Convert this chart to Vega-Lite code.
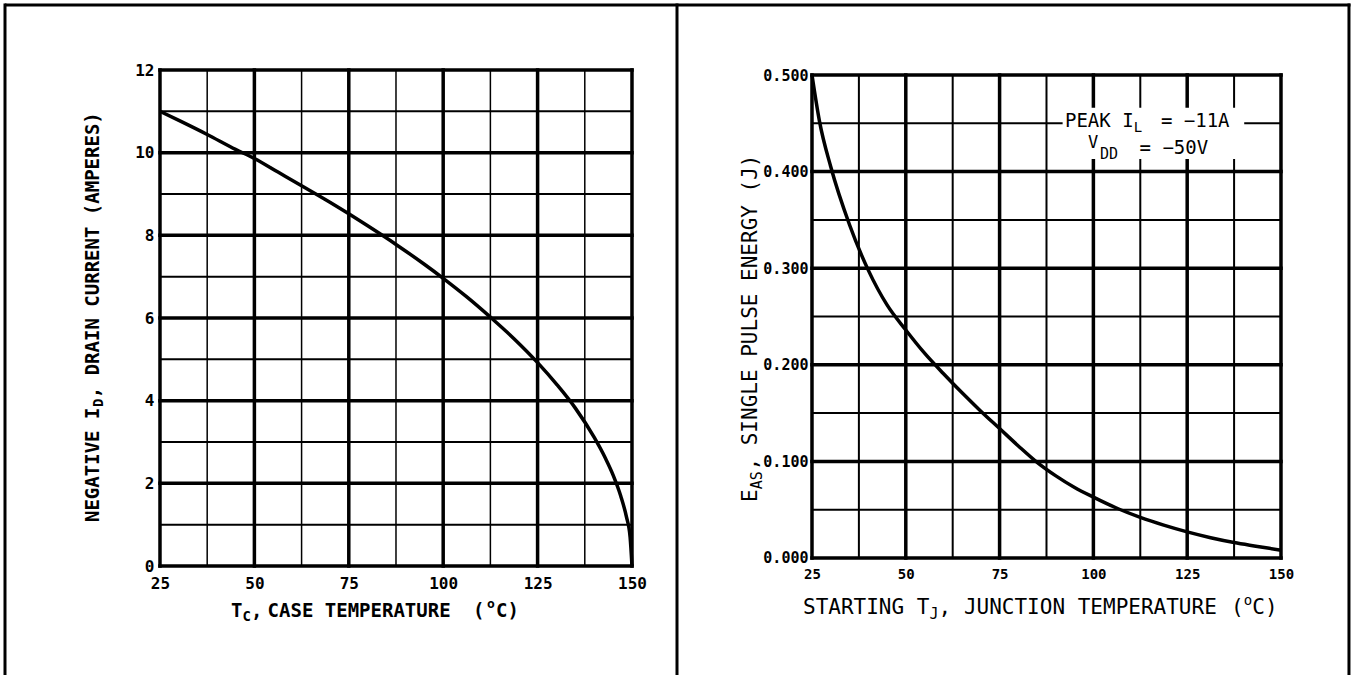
{
  "$schema": "https://vega.github.io/schema/vega-lite/v6.json",
  "background": "white",
  "padding": 0,
  "spacing": 0,
  "bounds": "flush",
  "config": {
    "view": {"stroke": null},
    "axis": {"grid": false, "domain": false, "ticks": false, "labelFlush": false, "labelOverlap": false, "labelBound": false, "labelColor": "black"}
  },
  "datasets": {
    "one": [{"k": 1}],
    "vminor": [{"v": 37.5}, {"v": 62.5}, {"v": 87.5}, {"v": 112.5}, {"v": 137.5}],
    "vmajor": [{"v": 25}, {"v": 50}, {"v": 75}, {"v": 100}, {"v": 125}, {"v": 150}],
    "hminorL": [{"h": 1}, {"h": 3}, {"h": 5}, {"h": 7}, {"h": 9}, {"h": 11}],
    "hmajorL": [{"h": 0}, {"h": 2}, {"h": 4}, {"h": 6}, {"h": 8}, {"h": 10}, {"h": 12}],
    "hminorR": [{"h": 0.05}, {"h": 0.15}, {"h": 0.25}, {"h": 0.35}, {"h": 0.45}],
    "hmajorR": [{"h": 0}, {"h": 0.1}, {"h": 0.2}, {"h": 0.3}, {"h": 0.4}, {"h": 0.5}],
    "drain": [
      {"T": 25, "I": 11.0}, {"T": 30, "I": 10.78}, {"T": 37.5, "I": 10.44}, {"T": 45, "I": 10.08},
      {"T": 50, "I": 9.86}, {"T": 56.25, "I": 9.53}, {"T": 62.5, "I": 9.2}, {"T": 70, "I": 8.8},
      {"T": 75, "I": 8.52}, {"T": 80, "I": 8.23}, {"T": 87.5, "I": 7.78}, {"T": 95, "I": 7.3},
      {"T": 100, "I": 6.96}, {"T": 106.25, "I": 6.51}, {"T": 112.5, "I": 6.02}, {"T": 118.75, "I": 5.5},
      {"T": 125, "I": 4.92}, {"T": 130, "I": 4.4}, {"T": 135, "I": 3.82}, {"T": 140, "I": 3.11},
      {"T": 143, "I": 2.6}, {"T": 145, "I": 2.2}, {"T": 147, "I": 1.7}, {"T": 148.5, "I": 1.2},
      {"T": 149.5, "I": 0.7}, {"T": 150, "I": 0.0}
    ],
    "energy": [
      {"T": 25, "E": 0.5}, {"T": 27, "E": 0.452}, {"T": 30, "E": 0.405}, {"T": 35, "E": 0.345},
      {"T": 40, "E": 0.298}, {"T": 45, "E": 0.262}, {"T": 50, "E": 0.236}, {"T": 55, "E": 0.212},
      {"T": 60, "E": 0.191}, {"T": 65, "E": 0.171}, {"T": 70, "E": 0.152}, {"T": 75, "E": 0.134},
      {"T": 80, "E": 0.116}, {"T": 85, "E": 0.099}, {"T": 90, "E": 0.085}, {"T": 95, "E": 0.073},
      {"T": 100, "E": 0.063}, {"T": 106, "E": 0.052}, {"T": 112.5, "E": 0.042}, {"T": 118.75, "E": 0.034},
      {"T": 125, "E": 0.027}, {"T": 131.25, "E": 0.021}, {"T": 137.5, "E": 0.016}, {"T": 143.75, "E": 0.012},
      {"T": 150, "E": 0.008}
    ]
  },
  "hconcat": [
    {
      "width": 677,
      "height": 675,
      "layer": [
        {
          "data": {"name": "vminor"},
          "mark": {"type": "rule", "color": "black", "strokeWidth": 1.5},
          "encoding": {
            "x": {"field": "v", "type": "quantitative",
              "scale": {"domain": [-17.37, 161.92], "nice": false, "zero": false},
              "axis": {"orient": "bottom", "offset": -109, "values": [25, 50, 75, 100, 125, 150], "labelPadding": 9,
                "labelFont": "DejaVu Sans Mono", "labelFontSize": 16, "labelFontWeight": "bold", "title": null}},
            "y": {"datum": 0, "type": "quantitative",
              "scale": {"domain": [-2.637, 13.694], "nice": false, "zero": false},
              "axis": {"orient": "left", "offset": -160, "values": [0, 2, 4, 6, 8, 10, 12], "labelPadding": 6,
                "labelFont": "DejaVu Sans Mono", "labelFontSize": 16, "labelFontWeight": "bold", "title": null}},
            "y2": {"datum": 12}
          }
        },
        {
          "data": {"name": "hminorL"},
          "mark": {"type": "rule", "color": "black", "strokeWidth": 2},
          "encoding": {"y": {"field": "h", "type": "quantitative"}, "x": {"datum": 25}, "x2": {"datum": 150}}
        },
        {
          "data": {"name": "vmajor"},
          "mark": {"type": "rule", "color": "black", "strokeWidth": 3.5, "strokeCap": "square"},
          "encoding": {"x": {"field": "v", "type": "quantitative"}, "y": {"datum": 0}, "y2": {"datum": 12}}
        },
        {
          "data": {"name": "hmajorL"},
          "mark": {"type": "rule", "color": "black", "strokeWidth": 3.5, "strokeCap": "square"},
          "encoding": {"y": {"field": "h", "type": "quantitative"}, "x": {"datum": 25}, "x2": {"datum": 150}}
        },
        {
          "data": {"name": "drain"},
          "mark": {"type": "line", "color": "black", "strokeWidth": 3.5, "interpolate": "monotone"},
          "encoding": {"x": {"field": "T", "type": "quantitative"}, "y": {"field": "I", "type": "quantitative"}}
        },
        {
          "data": {"name": "one"},
          "mark": {"type": "text", "text": "T", "font": "DejaVu Sans Mono", "fontSize": 19, "fontWeight": "bold", "align": "left", "baseline": "alphabetic"},
          "encoding": {"x": {"datum": 43.8}, "y": {"datum": -1.234}}
        },
        {
          "data": {"name": "one"},
          "mark": {"type": "text", "text": "C", "font": "DejaVu Sans Mono", "fontSize": 14, "fontWeight": "bold", "align": "left", "baseline": "alphabetic"},
          "encoding": {"x": {"datum": 46.85}, "y": {"datum": -1.331}}
        },
        {
          "data": {"name": "one"},
          "mark": {"type": "text", "text": ",", "font": "DejaVu Sans Mono", "fontSize": 19, "fontWeight": "bold", "align": "left", "baseline": "alphabetic"},
          "encoding": {"x": {"datum": 49.1}, "y": {"datum": -1.234}}
        },
        {
          "data": {"name": "one"},
          "mark": {"type": "text", "text": "CASE  TEMPERATURE", "font": "DejaVu Sans Mono", "fontSize": 19, "fontWeight": "bold", "align": "left", "baseline": "alphabetic"},
          "encoding": {"x": {"datum": 53.5}, "y": {"datum": -1.234}}
        },
        {
          "data": {"name": "one"},
          "mark": {"type": "text", "text": "(", "font": "DejaVu Sans Mono", "fontSize": 19, "fontWeight": "bold", "align": "left", "baseline": "alphabetic"},
          "encoding": {"x": {"datum": 107.9}, "y": {"datum": -1.234}}
        },
        {
          "data": {"name": "one"},
          "mark": {"type": "text", "text": "o", "font": "DejaVu Sans Mono", "fontSize": 13, "fontWeight": "bold", "align": "left", "baseline": "alphabetic"},
          "encoding": {"x": {"datum": 111.6}, "y": {"datum": -1.016}}
        },
        {
          "data": {"name": "one"},
          "mark": {"type": "text", "text": "C)", "font": "DejaVu Sans Mono", "fontSize": 19, "fontWeight": "bold", "align": "left", "baseline": "alphabetic"},
          "encoding": {"x": {"datum": 114.0}, "y": {"datum": -1.234}}
        },
        {
          "data": {"name": "one"},
          "mark": {"type": "text", "text": "NEGATIVE I", "angle": 270, "font": "DejaVu Sans Mono", "fontSize": 19, "fontWeight": "bold", "align": "left", "baseline": "alphabetic"},
          "encoding": {"x": {"datum": 8.845}, "y": {"datum": 1.0645}}
        },
        {
          "data": {"name": "one"},
          "mark": {"type": "text", "text": "D", "angle": 270, "font": "DejaVu Sans Mono", "fontSize": 14, "fontWeight": "bold", "align": "left", "baseline": "alphabetic"},
          "encoding": {"x": {"datum": 9.9}, "y": {"datum": 3.847}}
        },
        {
          "data": {"name": "one"},
          "mark": {"type": "text", "text": ", DRAIN  CURRENT  (AMPERES)", "angle": 270, "font": "DejaVu Sans Mono", "fontSize": 19, "fontWeight": "bold", "align": "left", "baseline": "alphabetic"},
          "encoding": {"x": {"datum": 8.845}, "y": {"datum": 4.06}}
        },
        {
          "data": {"name": "one"},
          "mark": {"type": "rule", "color": "black", "strokeWidth": 3},
          "encoding": {"x": {"datum": -16.046}, "y": {"datum": -2.637}, "y2": {"datum": 13.61}}
        },
        {
          "data": {"name": "one"},
          "mark": {"type": "rule", "color": "black", "strokeWidth": 3},
          "encoding": {"x": {"datum": -16.09}, "x2": {"datum": 161.92}, "y": {"datum": 13.573}}
        },
        {
          "data": {"name": "one"},
          "mark": {"type": "rule", "color": "black", "strokeWidth": 3},
          "encoding": {"x": {"datum": 161.92}, "y": {"datum": -2.637}, "y2": {"datum": 13.61}}
        }
      ]
    },
    {
      "width": 677,
      "height": 675,
      "layer": [
        {
          "data": {"name": "vminor"},
          "mark": {"type": "rule", "color": "black", "strokeWidth": 2},
          "encoding": {
            "x": {"field": "v", "type": "quantitative",
              "scale": {"domain": [-10.98, 169.46], "nice": false, "zero": false},
              "axis": {"orient": "bottom", "offset": -117, "values": [25, 50, 75, 100, 125, 150], "labelPadding": 9,
                "labelFont": "DejaVu Sans Mono", "labelFontSize": 14, "labelFontWeight": "bold", "title": null}},
            "y": {"datum": 0, "type": "quantitative",
              "scale": {"domain": [-0.12112, 0.57764], "nice": false, "zero": false},
              "axis": {"orient": "left", "offset": -135, "values": [0, 0.1, 0.2, 0.3, 0.4, 0.5], "format": ".3f", "labelPadding": 4,
                "labelFont": "DejaVu Sans Mono", "labelFontSize": 15, "labelFontWeight": "bold", "title": null}},
            "y2": {"datum": 0.5}
          }
        },
        {
          "data": {"name": "hminorR"},
          "mark": {"type": "rule", "color": "black", "strokeWidth": 2},
          "encoding": {"y": {"field": "h", "type": "quantitative"}, "x": {"datum": 25}, "x2": {"datum": 150}}
        },
        {
          "data": {"name": "vmajor"},
          "mark": {"type": "rule", "color": "black", "strokeWidth": 3.5, "strokeCap": "square"},
          "encoding": {"x": {"field": "v", "type": "quantitative"}, "y": {"datum": 0}, "y2": {"datum": 0.5}}
        },
        {
          "data": {"name": "hmajorR"},
          "mark": {"type": "rule", "color": "black", "strokeWidth": 3.5, "strokeCap": "square"},
          "encoding": {"y": {"field": "h", "type": "quantitative"}, "x": {"datum": 25}, "x2": {"datum": 150}}
        },
        {
          "data": {"name": "one"},
          "mark": {"type": "rect", "color": "white"},
          "encoding": {"x": {"datum": 91.8}, "x2": {"datum": 140.2}, "y": {"datum": 0.413}, "y2": {"datum": 0.466}}
        },
        {
          "data": {"name": "one"},
          "mark": {"type": "text", "text": "PEAK I", "font": "DejaVu Sans Mono", "fontSize": 19, "align": "left", "baseline": "alphabetic"},
          "encoding": {"x": {"datum": 92.43}, "y": {"datum": 0.4459}}
        },
        {
          "data": {"name": "one"},
          "mark": {"type": "text", "text": "L", "font": "DejaVu Sans Mono", "fontSize": 14, "align": "left", "baseline": "alphabetic"},
          "encoding": {"x": {"datum": 110.75}, "y": {"datum": 0.4407}}
        },
        {
          "data": {"name": "one"},
          "mark": {"type": "text", "text": "=  −11A", "font": "DejaVu Sans Mono", "fontSize": 19, "align": "left", "baseline": "alphabetic"},
          "encoding": {"x": {"datum": 118.0}, "y": {"datum": 0.4459}}
        },
        {
          "data": {"name": "one"},
          "mark": {"type": "text", "text": "V", "font": "DejaVu Sans Mono", "fontSize": 17, "align": "left", "baseline": "alphabetic"},
          "encoding": {"x": {"datum": 98.56}, "y": {"datum": 0.4245}}
        },
        {
          "data": {"name": "one"},
          "mark": {"type": "text", "text": "DD", "font": "DejaVu Sans Mono", "fontSize": 15, "align": "left", "baseline": "alphabetic"},
          "encoding": {"x": {"datum": 101.76}, "y": {"datum": 0.4135}}
        },
        {
          "data": {"name": "one"},
          "mark": {"type": "text", "text": "= −50V", "font": "DejaVu Sans Mono", "fontSize": 19, "align": "left", "baseline": "alphabetic"},
          "encoding": {"x": {"datum": 112.29}, "y": {"datum": 0.4183}}
        },
        {
          "data": {"name": "energy"},
          "mark": {"type": "line", "color": "black", "strokeWidth": 3.5, "interpolate": "monotone"},
          "encoding": {"x": {"field": "T", "type": "quantitative"}, "y": {"field": "E", "type": "quantitative"}}
        },
        {
          "data": {"name": "one"},
          "mark": {"type": "text", "text": "STARTING T", "font": "DejaVu Sans Mono", "fontSize": 21, "align": "left", "baseline": "alphabetic"},
          "encoding": {"x": {"datum": 22.6}, "y": {"datum": -0.05797}}
        },
        {
          "data": {"name": "one"},
          "mark": {"type": "text", "text": "J", "font": "DejaVu Sans Mono", "fontSize": 15, "align": "left", "baseline": "alphabetic"},
          "encoding": {"x": {"datum": 56.3}, "y": {"datum": -0.06315}}
        },
        {
          "data": {"name": "one"},
          "mark": {"type": "text", "text": ", JUNCTION  TEMPERATURE", "font": "DejaVu Sans Mono", "fontSize": 21, "align": "left", "baseline": "alphabetic"},
          "encoding": {"x": {"datum": 58.75}, "y": {"datum": -0.05797}}
        },
        {
          "data": {"name": "one"},
          "mark": {"type": "text", "text": "(", "font": "DejaVu Sans Mono", "fontSize": 21, "align": "left", "baseline": "alphabetic"},
          "encoding": {"x": {"datum": 136.67}, "y": {"datum": -0.05797}}
        },
        {
          "data": {"name": "one"},
          "mark": {"type": "text", "text": "o", "font": "DejaVu Sans Mono", "fontSize": 14, "align": "left", "baseline": "alphabetic"},
          "encoding": {"x": {"datum": 140.05}, "y": {"datum": -0.04865}}
        },
        {
          "data": {"name": "one"},
          "mark": {"type": "text", "text": "C)", "font": "DejaVu Sans Mono", "fontSize": 21, "align": "left", "baseline": "alphabetic"},
          "encoding": {"x": {"datum": 142.35}, "y": {"datum": -0.05797}}
        },
        {
          "data": {"name": "one"},
          "mark": {"type": "text", "text": "E", "angle": 270, "font": "DejaVu Sans Mono", "fontSize": 21, "align": "left", "baseline": "alphabetic"},
          "encoding": {"x": {"datum": 10.34}, "y": {"datum": 0.05797}}
        },
        {
          "data": {"name": "one"},
          "mark": {"type": "text", "text": "AS", "angle": 270, "font": "DejaVu Sans Mono", "fontSize": 15, "align": "left", "baseline": "alphabetic"},
          "encoding": {"x": {"datum": 11.67}, "y": {"datum": 0.0712}}
        },
        {
          "data": {"name": "one"},
          "mark": {"type": "text", "text": ", SINGLE  PULSE  ENERGY  (J)", "angle": 270, "font": "DejaVu Sans Mono", "fontSize": 21, "align": "left", "baseline": "alphabetic"},
          "encoding": {"x": {"datum": 10.34}, "y": {"datum": 0.0905}}
        },
        {
          "data": {"name": "one"},
          "mark": {"type": "rule", "color": "black", "strokeWidth": 3},
          "encoding": {"x": {"datum": -10.98}, "x2": {"datum": 168.52}, "y": {"datum": 0.57246}}
        },
        {
          "data": {"name": "one"},
          "mark": {"type": "rule", "color": "black", "strokeWidth": 3},
          "encoding": {"x": {"datum": 168.12}, "y": {"datum": -0.12112}, "y2": {"datum": 0.5741}}
        }
      ]
    }
  ]
}
